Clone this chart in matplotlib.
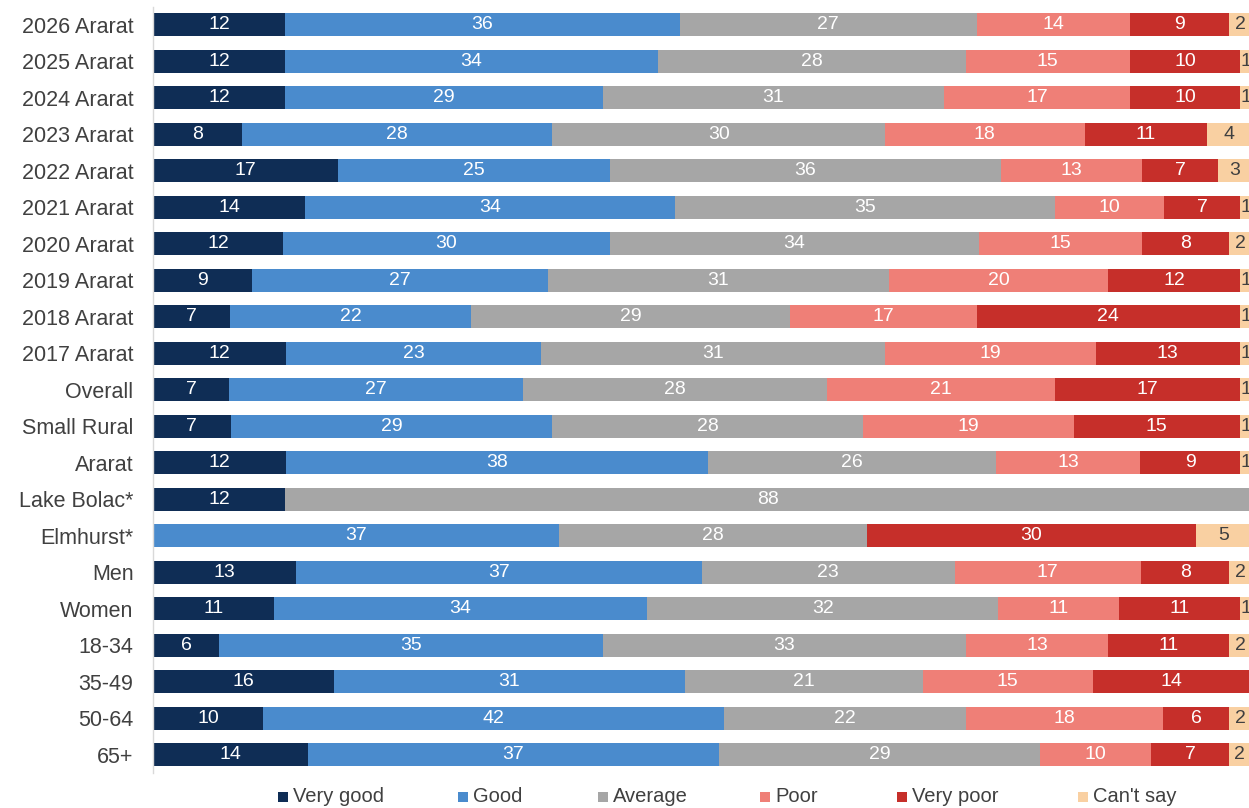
import matplotlib
matplotlib.use("Agg")
import matplotlib.pyplot as plt
from matplotlib.patches import Rectangle
import numpy as np

plt.rcParams['font.family'] = ['Liberation Sans', 'DejaVu Sans']

categories = [
    "2026 Ararat", "2025 Ararat", "2024 Ararat", "2023 Ararat", "2022 Ararat",
    "2021 Ararat", "2020 Ararat", "2019 Ararat", "2018 Ararat", "2017 Ararat",
    "Overall", "Small Rural", "Ararat", "Lake Bolac*", "Elmhurst*",
    "Men", "Women", "18-34", "35-49", "50-64", "65+",
]

series_names = ["Very good", "Good", "Average", "Poor", "Very poor", "Can't say"]

very_good = [12, 12, 12, 8, 17, 14, 12, 9, 7, 12, 7, 7, 12, 12, 0, 13, 11, 6, 16, 10, 14]
good      = [36, 34, 29, 28, 25, 34, 30, 27, 22, 23, 27, 29, 38, 0, 37, 37, 34, 35, 31, 42, 37]
average   = [27, 28, 31, 30, 36, 35, 34, 31, 29, 31, 28, 28, 26, 88, 28, 23, 32, 33, 21, 22, 29]
poor      = [14, 15, 17, 18, 13, 10, 15, 20, 17, 19, 21, 19, 13, 0, 0, 17, 11, 13, 15, 18, 10]
very_poor = [9, 10, 10, 11, 7, 7, 8, 12, 24, 13, 17, 15, 9, 0, 30, 8, 11, 11, 14, 6, 7]
cant_say  = [2, 1, 1, 4, 3, 1, 2, 1, 1, 1, 1, 1, 1, 0, 5, 2, 1, 2, 0, 2, 2]

colors = ["#0f2d55", "#4a8bcd", "#a6a6a6", "#ef7f77", "#c62f2a", "#f9d0a2"]
text_colors = ["white", "white", "white", "white", "white", "#404040"]

data = np.array([very_good, good, average, poor, very_poor, cant_say], dtype=float)
totals = data.sum(axis=0)
shares = data / totals * 100  # each row fills the full 100% width

W, H = 1249, 808
fig = plt.figure(figsize=(W / 100, H / 100), dpi=100)
ax = fig.add_axes([153 / W, 1 - 772.75 / H, 1098 / W, (772.75 - 6.75) / H])

y = np.arange(len(categories))
left = np.zeros(len(categories))
for i, name in enumerate(series_names):
    w = shares[i]
    ax.barh(y, w, left=left, height=0.63, color=colors[i], label=name, linewidth=0)
    for j in range(len(categories)):
        if data[i, j] > 0:
            ax.text(left[j] + w[j] / 2, y[j], f"{int(data[i, j])}",
                    ha="center", va="center", fontsize=14, color=text_colors[i])
    left += w

ax.set_xlim(0, 100)
ax.set_ylim(len(categories) - 0.5, -0.5)
ax.set_yticks(y)
ax.set_yticklabels(categories)
ax.tick_params(axis="y", length=0, pad=14, labelsize=15.5, labelcolor="#404040")
ax.set_xticks([])
for side in ["top", "right", "bottom"]:
    ax.spines[side].set_visible(False)
ax.spines["left"].set_color("#d9d9d9")
ax.spines["left"].set_linewidth(1.0)

# legend row under the bars
legend_x = [278, 458, 598, 760, 897, 1078]
legend_y = 797
sq = 10
for x0, name, c in zip(legend_x, series_names, colors):
    fig.patches.append(Rectangle((x0 / W, 1 - (legend_y + sq / 2) / H), sq / W, sq / H,
                                 transform=fig.transFigure, facecolor=c, edgecolor="none"))
    fig.text((x0 + sq + 5) / W, 1 - legend_y / H, name, ha="left", va="center",
             fontsize=14.5, color="#404040")

fig.savefig("out.png", dpi=100)
